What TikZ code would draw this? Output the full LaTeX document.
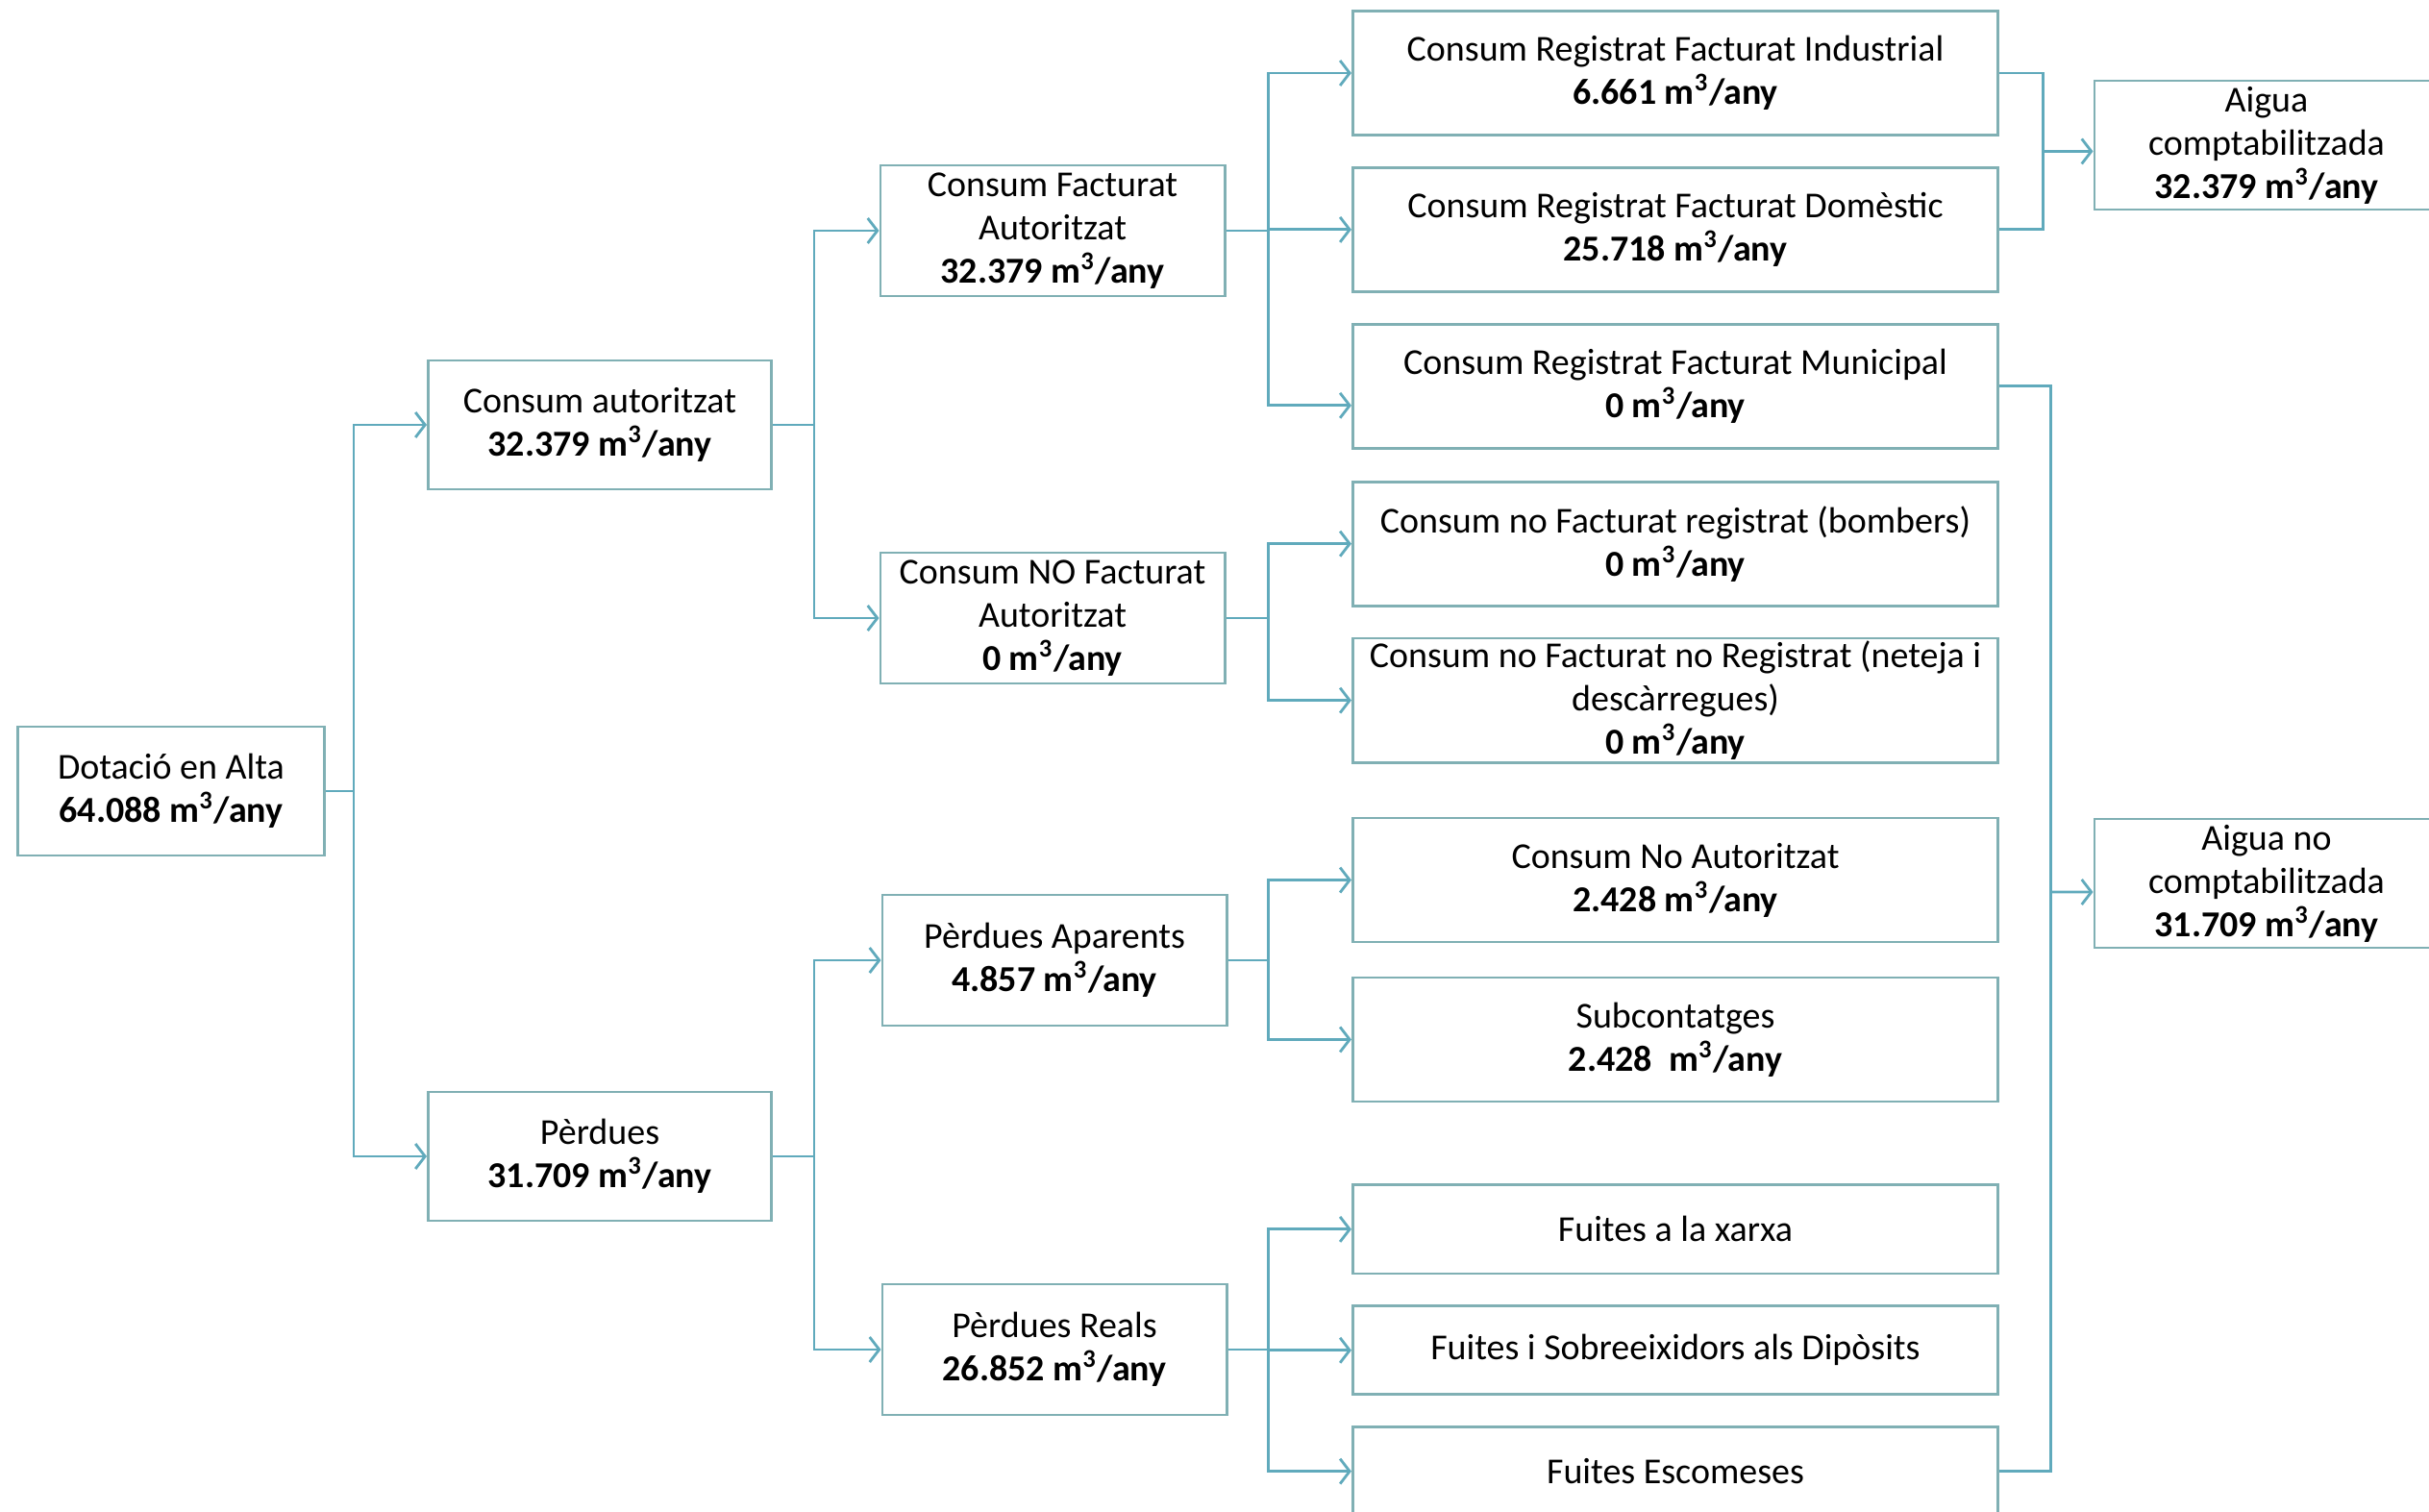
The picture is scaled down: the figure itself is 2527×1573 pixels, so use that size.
\documentclass[tikz,border=0pt]{standalone}
\usepackage{fontspec}
\setmainfont{Carlito}
\usetikzlibrary{arrows.meta,positioning,calc}
\definecolor{linecol}{RGB}{96,170,188}
\definecolor{boxcol}{RGB}{128,176,180}

\begin{document}
\begin{tikzpicture}[x=0.01cm, y=-0.01cm,
  box/.style={draw=boxcol, line width=0.8pt, fill=white, align=center, font=\fontsize{10.8}{12.8}\selectfont, inner xsep=2pt, inner ysep=0pt, minimum height=1.34cm},
  mid/.style={box, minimum width=3.58cm, minimum height=1.36cm},
  wide/.style={box, minimum width=6.71cm, minimum height=1.29cm},
  leak/.style={wide, minimum height=0.92cm},
  flow/.style={draw=linecol, line width=0.8pt, -{Straight Barb[length=1mm,width=2.6mm]}},
  link/.style={draw=linecol, line width=0.8pt},
  node distance=0.31cm]
\useasboundingbox (0,0) rectangle (2527,1573);
\clip (0,0) rectangle (2527,1573);
\node[box, minimum width=3.19cm] (dot) at (178,823) {Dotació en Alta\\\textbf{64.088 m\textsuperscript{3}/any}};
\node[box, minimum width=3.57cm] (caut) at (624,442) {Consum autoritzat\\\textbf{32.379 m\textsuperscript{3}/any}};
\node[box, minimum width=3.57cm] (perd) at (624,1203) {Pèrdues\\\textbf{31.709 m\textsuperscript{3}/any}};
\node[mid] (cfa) at (1095,240) {Consum Facturat\\Autoritzat\\\textbf{32.379 m\textsuperscript{3}/any}};
\node[mid] (cnfa) at (1095,643) {Consum NO Facturat\\Autoritzat\\\textbf{0 m\textsuperscript{3}/any}};
\node[mid] (pa) at (1097,999) {Pèrdues Aparents\\\textbf{4.857 m\textsuperscript{3}/any}};
\node[mid] (pr) at (1097,1404) {Pèrdues Reals\\\textbf{26.852 m\textsuperscript{3}/any}};
\node[wide] (ind) at (1743,76) {Consum Registrat Facturat Industrial\\\textbf{6.661 m\textsuperscript{3}/any}};
\node[wide, below=of ind] (dom) {Consum Registrat Facturat Domèstic\\\textbf{25.718 m\textsuperscript{3}/any}};
\node[wide, below=of dom] (mun) {Consum Registrat Facturat Municipal\\\textbf{0 m\textsuperscript{3}/any}};
\node[wide, below=0.32cm of mun] (bomb) {Consum no Facturat registrat (bombers)\\\textbf{0 m\textsuperscript{3}/any}};
\node[wide, below=of bomb] (noreg) {Consum no Facturat no Registrat (neteja i\\descàrregues)\\\textbf{0 m\textsuperscript{3}/any}};
\node[wide, below=0.55cm of noreg] (noaut) {Consum No Autoritzat\\\textbf{2.428 m\textsuperscript{3}/any}};
\node[wide, below=0.34cm of noaut] (sub) {Subcontatges\\\textbf{2.428\ \ m\textsuperscript{3}/any}};
\node[leak, below=0.84cm of sub] (xarxa) {Fuites a la xarxa};
\node[leak, below=of xarxa] (sobr) {Fuites i Sobreeixidors als Dipòsits};
\node[leak, below=of sobr] (esc) {Fuites Escomeses};
\node[box, minimum width=3.58cm] (acomp) at (2358,151) {Aigua\\comptabilitzada\\\textbf{32.379 m\textsuperscript{3}/any}};
\node[box, minimum width=3.58cm] (anoc) at (2358,919) {Aigua no\\comptabilitzada\\\textbf{31.709 m\textsuperscript{3}/any}};
% tree
\draw[link] (dot.east) -- ++(29,0) coordinate (t1);
\draw[flow] (t1) |- (caut.west);
\draw[flow] (t1) |- (perd.west);
\draw[link] (caut.east) -- ++(43,0) coordinate (t2a);
\draw[flow] (t2a) |- (cfa.west);
\draw[flow] (t2a) |- (cnfa.west);
\draw[link] (perd.east) -- ++(43,0) coordinate (t2b);
\draw[flow] (t2b) |- (pa.west);
\draw[flow] (t2b) |- (pr.west);
\draw[link] (cfa.east) -- ++(44,0) coordinate (t3a);
\draw[flow] (t3a) |- (ind.west);
\draw[flow] (t3a) |- (dom.west);
\draw[flow] (t3a) |- ([yshift=-0.2cm]mun.west);
\draw[link] (cnfa.east) -- ++(44,0) coordinate (t3b);
\draw[flow] (t3b) |- (bomb.west);
\draw[flow] (t3b) |- (noreg.west);
\draw[link] (pa.east) -- ++(42,0) coordinate (t3c);
\draw[flow] (t3c) |- (noaut.west);
\draw[flow] (t3c) |- (sub.west);
\draw[link] (pr.east) -- ++(42,0) coordinate (t3d);
\draw[flow] (t3d) |- (xarxa.west);
\draw[flow] (t3d) |- (sobr.west);
\draw[flow] (t3d) |- (esc.west);
% totals
\draw[link] (ind.east) -- ++(45,0) coordinate (r1) |- (dom.east);
\draw[flow] ($(r1)!0.5!(r1 |- dom.east)$) coordinate (m1) -- (m1 -| acomp.west);
\draw[link] (mun.east) -- ++(53,0) coordinate (r2) |- (esc.east);
\draw[flow] (r2 |- anoc.west) ++(0,9) -- ([yshift=-0.09cm]anoc.west);
\end{tikzpicture}
\end{document}
